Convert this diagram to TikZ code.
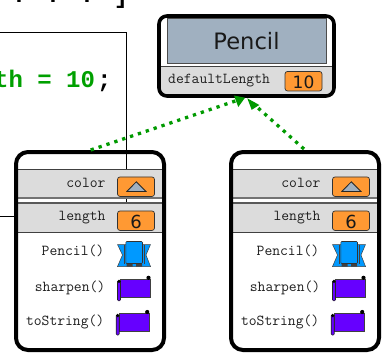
\documentclass[tikz,border=0pt]{standalone}
\usepackage{fontspec}
\setmainfont{DejaVu Sans}
\setmonofont{Liberation Mono}
\newfontfamily\lblfont{Latin Modern Mono}
\definecolor{gband}{HTML}{DCDCDC}
\definecolor{orangev}{HTML}{FF9933}
\definecolor{slate}{HTML}{A0B0C0}
\definecolor{codegreen}{HTML}{00A000}
\definecolor{arrowgreen}{HTML}{009A00}
\definecolor{ctorblue}{HTML}{0099FF}
\definecolor{methpurple}{HTML}{6600FF}
\tikzset{
 x=1pt,y=-1pt,
 objbox/.style={draw=black,line width=4pt,rounded corners=12pt},
 classbox/.style={draw=black,line width=3.6pt,rounded corners=8pt},
 band/.style={fill=gband,draw=none},
 bandline/.style={draw=black!75,line width=0.9pt},
 valbox/.style={draw=black!80,fill=orangev,line width=0.7pt,rounded corners=2.5pt,minimum width=37pt,minimum height=19.5pt,inner sep=0pt},
 lbl/.style={font=\lblfont\fontsize{15.2}{16}\selectfont,text=black!88,anchor=east,inner sep=0pt},
 num/.style={font=\fontsize{18}{18}\selectfont,inner sep=0pt,text=black!90},
 frameline/.style={draw=black,line width=0.8pt},
 refarrow/.style={draw=arrowgreen,line width=3.3pt,dash pattern=on 3.3pt off 5pt,shorten >=8pt},
 refhead/.style={fill=arrowgreen,draw=none},
 code/.style={font=\ttfamily\bfseries\fontsize{24}{24}\selectfont,inner sep=0pt},
}
\newcommand{\ctor}[2]{%
 \begin{scope}[shift={(#1,#2)}]
 \fill[ctorblue,draw=black!75,line width=.5pt] (0,-9.5)--(33,-9.5)--(28.5,1)--(33,12.5)--(0,12.5)--(5,1)--cycle;
 \draw[black!75,line width=.6pt] (6.5,-9.5)--(6.5,10) (26.5,-9.5)--(26.5,10);
 \fill[black!75] (9,9) rectangle (15,12.5) (18.5,9) rectangle (24.5,12.5);
 \fill[ctorblue,draw=black!80,line width=.6pt,rounded corners=1pt] (8.3,-12.5) rectangle (25,9.5);
 \end{scope}}
\newcommand{\meth}[2]{%
 \begin{scope}[shift={(#1,#2)}]
 \fill[methpurple,draw=black!75,line width=.6pt] (3,-9) rectangle (33,9);
 \fill[methpurple,draw=black!85,line width=.6pt,rounded corners=1pt] (0,-7.5) rectangle (3,12.5);
 \fill[black] (1.5,-7) circle (1.8);
 \fill[black] (31,-10.5) circle (2.1);
 \end{scope}}
\newcommand{\obj}[1]{%
 \begin{scope}[shift={(#1,0)}]
 \fill[band] (16,169) rectangle (164,198);
 \fill[band] (16,203) rectangle (164,232);
 \draw[bandline] (16,169)--(164,169);
 \draw[line width=1.6pt,black!55] (16,198)--(164,198);
 \draw[line width=1.2pt,black!65] (16,203)--(164,203);
 \draw[bandline] (16,232)--(164,232);
 \end{scope}}
\begin{document}
\begin{tikzpicture}
\useasboundingbox (0,0) rectangle (385,360);
\fill[white] (0,0) rectangle (385,360);
% code frame
\coordinate (frameL) at (0,32.3);
\coordinate (frameTR) at (126.4,32.3);
\coordinate (frameB) at (126.4,169);
\coordinate (frameC) at (126.4,198);
\coordinate (frameD) at (126.4,203);
\coordinate (lenL) at (0,216);
\coordinate (lenR) at (15,216);
\draw[frameline] (frameL)--(frameTR)--(frameB);
\draw[frameline] (frameC)--(frameD);
\draw[frameline] (lenL)--(lenR);
\node[code,text=codegreen,anchor=base east] (codeA) at (95.2,87.3) {th = 10};
\node[code,anchor=base west] (codeB) at (97,87.3) {;};
\node[code,anchor=base] (codeTopA) at (19,2.6) {.};
\node[code,anchor=base] (codeTopB) at (53,2.6) {.};
\node[code,anchor=base] (codeTopC) at (87,2.6) {.};
\node[code,anchor=base] (codeTopD) at (121,3.6) {]};
% Pencil class
\fill[white] (159,16) rectangle (334,96);
\fill[slate,draw=black!70,line width=.8pt] (167.3,18.3) rectangle (326.7,63.7);
\fill[gband] (160,66.5) rectangle (333,96);
\draw[bandline] (160,66.5)--(333,66.5);
\draw[classbox] (159,16) rectangle (334,96);
\node[font=\fontsize{22.6}{23}\selectfont,text=black!90,inner sep=0pt] (title) at (246.5,41) {Pencil};
\node[lbl,anchor=west] (dl) at (168,81) {defaultLength};
\node[valbox] (dv) at (303.5,81.2) {};
\node[num,font=\fontsize{17}{17}\selectfont] (dn) at (303.5,82) {10};
% objects
\obj{0}
\obj{215}
\foreach \ox/\nm in {0/a,215/b}{
 \begin{scope}[shift={(\ox,0)}]
 \node[lbl] (color\nm) at (105.7,183) {color};
 \node[lbl] (length\nm) at (105.7,218) {length};
 \node[lbl] (pc\nm) at (104.5,251) {Pencil()};
 \node[lbl] (sh\nm) at (105.5,288) {sharpen()};
 \node[lbl] (ts\nm) at (104.5,322) {toString()};
 \node[valbox] (cv\nm) at (136,186.7) {};
 \fill[slate,draw=black!85,line width=.8pt] (126.8,191.5)--(136.3,181.8)--(146,191.5)--cycle;
 \node[valbox] (lv\nm) at (136,220.7) {};
 \node[num] (ln\nm) at (136,221.5) {6};
 \end{scope}
}
\ctor{117.5}{254}
\ctor{332.5}{254}
\meth{117.5}{288.3}
\meth{332.5}{288.3}
\meth{116.2}{322.5}
\meth{331.2}{322.5}
\draw[objbox] (16,152) rectangle (164,350);
\draw[objbox] (231,152) rectangle (379,350);
% arrows
\coordinate (s1) at (90.7,150);
\coordinate (s2) at (304,149);
\coordinate (t1) at (245,97.7);
\coordinate (t2) at (247.3,98.3);
\draw[refarrow] (s1)--(t1);
\draw[refarrow] (s2)--(t2);
\fill[refhead] (t1)--(234,95.5)--(238.3,107)--cycle;
\fill[refhead] (t2)--(259.3,105)--(251.7,109.8)--cycle;
\end{tikzpicture}
\end{document}
